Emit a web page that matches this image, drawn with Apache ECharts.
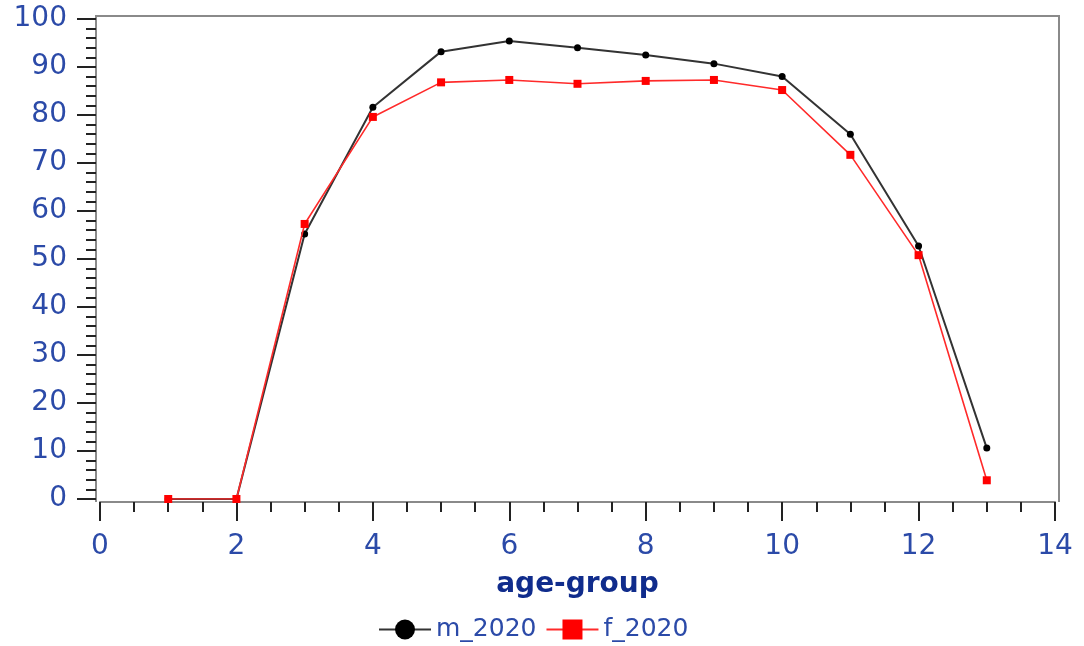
<!DOCTYPE html>
<html>
<head>
<meta charset="utf-8">
<script src="https://cdn.jsdelivr.net/npm/echarts@6/dist/echarts.min.js"></script>
<style>
  html, body { margin: 0; padding: 0; background: #ffffff; }
  #chart { width: 1084px; height: 646px; }
</style>
</head>
<body>
<div id="chart"></div>
<script>
// Age groups and participation values per series
const ageGroups = [1, 2, 3, 4, 5, 6, 7, 8, 9, 10, 11, 12, 13];
const m2020 = [0, 0, 55.2, 81.6, 93.2, 95.4, 94.0, 92.5, 90.7, 88.0, 76.0, 52.7, 10.6];
const f2020 = [0, 0, 57.3, 79.6, 86.8, 87.3, 86.5, 87.1, 87.3, 85.2, 71.7, 50.8, 3.9];
const xTicks = [0, 2, 4, 6, 8, 10, 12, 14];
const yTicks = [0, 10, 20, 30, 40, 50, 60, 70, 80, 90, 100];

const labelBlue = '#2b4aa8';
const titleBlue = '#102c8c';
const fontFam = '"DejaVu Sans", Verdana, sans-serif';

const pairs = vals => ageGroups.map((a, i) => [a, vals[i]]);

const chart = echarts.init(document.getElementById('chart'), null, { renderer: 'canvas' });

chart.setOption({
  animation: false,
  backgroundColor: '#ffffff',
  grid: { left: 100, right: 29, top: 19, bottom: 147, containLabel: false },
  xAxis: {
    type: 'value',
    min: xTicks[0],
    max: xTicks[xTicks.length - 1],
    interval: 2,
    offset: 3,
    name: 'age-group',
    nameLocation: 'middle',
    nameGap: 69,
    nameTextStyle: { color: titleBlue, fontSize: 28, fontWeight: 'bold', fontFamily: fontFam },
    axisLine: { show: true, onZero: false, lineStyle: { color: '#8a8a8a', width: 2 } },
    axisTick: { show: true, length: 19, lineStyle: { color: '#222', width: 2 } },
    minorTick: { show: true, splitNumber: 4, length: 10, lineStyle: { color: '#222', width: 2 } },
    axisLabel: { color: labelBlue, fontSize: 28, fontFamily: fontFam, margin: 31 },
    splitLine: { show: false }
  },
  yAxis: {
    type: 'value',
    min: yTicks[0],
    max: yTicks[yTicks.length - 1],
    interval: 10,
    offset: 4,
    axisLine: { show: true, onZero: false, lineStyle: { color: '#8a8a8a', width: 2 } },
    axisTick: { show: true, length: 19, lineStyle: { color: '#222', width: 2 } },
    minorTick: { show: true, splitNumber: 5, length: 10, lineStyle: { color: '#222', width: 2 } },
    axisLabel: { color: labelBlue, fontSize: 28, fontFamily: fontFam, margin: 29 },
    splitLine: { show: false }
  },
  legend: {
    left: 378,
    top: 617,
    padding: 0,
    itemWidth: 52,
    itemHeight: 25,
    itemGap: 9,
    textStyle: { color: labelBlue, fontSize: 25, fontFamily: fontFam },
    data: ['m_2020', 'f_2020']
  },
  graphic: [{
    type: 'polyline',
    shape: { points: [[96, 502], [96, 16], [1059, 16], [1059, 502]] },
    style: { stroke: '#8a8a8a', lineWidth: 2, fill: null },
    silent: true
  }],
  series: [
    {
      name: 'm_2020',
      type: 'line',
      data: pairs(m2020),
      symbol: 'circle',
      symbolSize: 7,
      itemStyle: { color: '#000000' },
      lineStyle: { color: '#333333', width: 2 },
      z: 3
    },
    {
      name: 'f_2020',
      type: 'line',
      data: pairs(f2020),
      symbol: 'rect',
      symbolSize: 8,
      itemStyle: { color: '#ff0000' },
      lineStyle: { color: '#ff2a2a', width: 1.6 },
      z: 4
    }
  ]
});
</script>
</body>
</html>
